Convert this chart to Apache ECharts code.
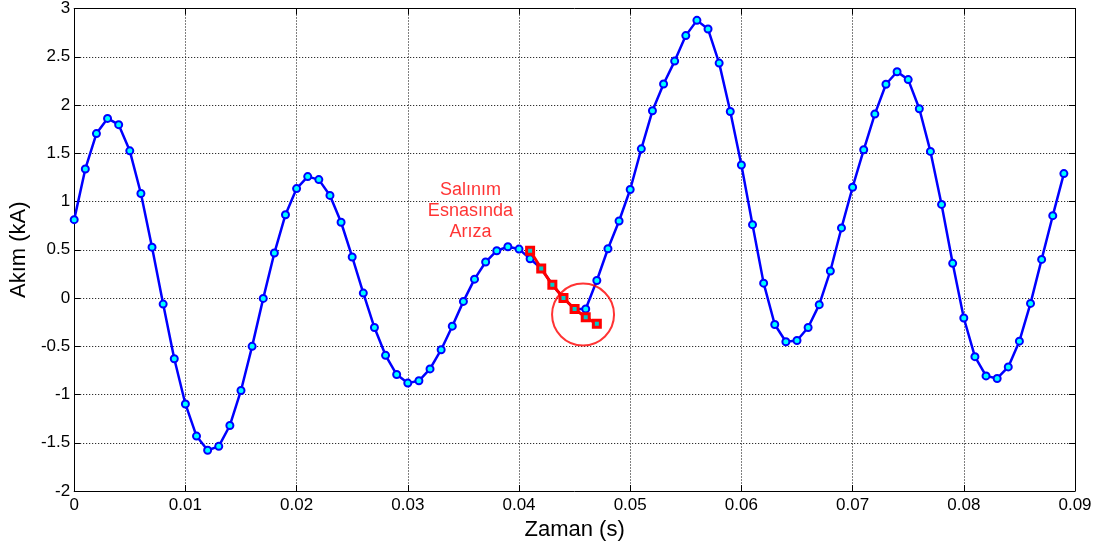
<!DOCTYPE html>
<html>
<head>
<meta charset="utf-8">
<script src="https://cdn.jsdelivr.net/npm/echarts@6/dist/echarts.min.js"></script>
<style>html,body{margin:0;padding:0;background:#fff}#c{width:1109px;height:546px}</style>
</head>
<body>
<div id="c"></div>
<script>
// time step 0.001 s, samples from t = 0
const timeStart = 0;
const timeStep = 0.001;
const currentBlue = [
  0.812, 1.337, 1.704, 1.861, 1.796, 1.525, 1.083, 0.527, -0.063, -0.629,
  -1.098, -1.431, -1.578, -1.537, -1.321, -0.958, -0.501, -0.004, 0.466, 0.863,
  1.134, 1.258, 1.227, 1.063, 0.785, 0.425, 0.051, -0.306, -0.594, -0.793,
  -0.882, -0.858, -0.735, -0.536, -0.292, -0.035, 0.195, 0.373, 0.490, 0.531,
  0.507, 0.407, 0.305, 0.137, -0.001, -0.114, -0.114, 0.181, 0.510, 0.798,
  1.124, 1.546, 1.940, 2.218, 2.455, 2.719, 2.877, 2.787, 2.434, 1.933,
  1.378, 0.760, 0.154, -0.275, -0.453, -0.440, -0.306, -0.069, 0.280, 0.726,
  1.148, 1.536, 1.906, 2.215, 2.345, 2.263, 1.961, 1.519, 0.970, 0.359,
  -0.207, -0.608, -0.807, -0.834, -0.714, -0.447, -0.056, 0.400, 0.853, 1.289
];
const faultStart = 0.041;
const currentRed = [0.490, 0.305, 0.137, 0.000, -0.114, -0.200, -0.268];
const circleCenter = [0.04576, -0.172];
const noteAnchor = [0.03563, 0.90];
const noteText = 'Salınım\nEsnasında\nArıza';
const xTicks = ['0','0.01','0.02','0.03','0.04','0.05','0.06','0.07','0.08','0.09'];

const r3 = v => Math.round(v * 1e6) / 1e6;
const blueData = currentBlue.map((v, i) => [r3(timeStart + i * timeStep), v]);
const redData = currentRed.map((v, i) => [r3(faultStart + i * timeStep), v]);

const FONT = '"Liberation Sans", Arial, sans-serif';
const chart = echarts.init(document.getElementById('c'), null, {renderer: 'canvas'});
const gridLine = {show: true, lineStyle: {color: '#000', type: [1, 2], width: 1}};
chart.setOption({
  animation: false,
  backgroundColor: '#fff',
  grid: {left: 71, right: 34, top: 5, bottom: 55, containLabel: false},
  xAxis: [{
    type: 'value', min: 0, max: 0.09, interval: 0.01,
    name: 'Zaman (s)', nameLocation: 'middle', nameGap: 24,
    nameTextStyle: {fontFamily: FONT, fontSize: 22, color: '#000'},
    axisLine: {show: true, onZero: false, lineStyle: {color: '#000', width: 1}},
    axisTick: {show: true, inside: true, length: 6, lineStyle: {color: '#000'}},
    axisLabel: {fontFamily: FONT, fontSize: 17, color: '#000', margin: 6,
      formatter: v => xTicks[Math.round(v / 0.01)]},
    splitLine: gridLine
  }, {
    type: 'value', min: 0, max: 0.09, interval: 0.01, position: 'top',
    axisLine: {show: true, onZero: false, lineStyle: {color: '#000', width: 1}},
    axisTick: {show: true, inside: true, length: 6, lineStyle: {color: '#000'}},
    axisLabel: {show: false}, splitLine: {show: false}
  }],
  yAxis: [{
    type: 'value', min: -2, max: 3, interval: 0.5,
    name: 'Akım (kA)', nameLocation: 'middle', nameGap: 38, nameRotate: 90,
    nameTextStyle: {fontFamily: FONT, fontSize: 22, color: '#000'},
    axisLine: {show: true, onZero: false, lineStyle: {color: '#000', width: 1}},
    axisTick: {show: true, inside: true, length: 6, lineStyle: {color: '#000'}},
    axisLabel: {fontFamily: FONT, fontSize: 17, color: '#000', margin: 4},
    splitLine: gridLine
  }, {
    type: 'value', min: -2, max: 3, interval: 0.5, position: 'right',
    axisLine: {show: true, onZero: false, lineStyle: {color: '#000', width: 1}},
    axisTick: {show: true, inside: true, length: 6, lineStyle: {color: '#000'}},
    axisLabel: {show: false}, splitLine: {show: false}
  }],
  series: [{
    type: 'line', data: blueData, xAxisIndex: 0, yAxisIndex: 0,
    symbol: 'circle', symbolSize: 7, showAllSymbol: true,
    lineStyle: {color: '#0000ff', width: 2.5},
    itemStyle: {color: '#00ffff', borderColor: '#0000ff', borderWidth: 2},
    z: 3
  }, {
    type: 'line', data: redData,
    symbol: 'rect', symbolSize: 7, showAllSymbol: true,
    lineStyle: {color: '#ff0000', width: 3},
    itemStyle: {color: '#00cccc', borderColor: '#ff0000', borderWidth: 3},
    z: 4
  }, {
    type: 'scatter', data: [circleCenter],
    symbol: 'circle', symbolSize: 62,
    itemStyle: {color: 'rgba(0,0,0,0)', borderColor: '#ff0000', borderWidth: 2},
    z: 5, silent: true
  }, {
    type: 'scatter', data: [noteAnchor], symbolSize: 0,
    label: {show: true, position: 'inside', formatter: noteText,
      fontFamily: FONT, fontSize: 18, lineHeight: 21, color: '#ff0000', align: 'center'},
    z: 6, silent: true
  }]
});
</script>
</body>
</html>
